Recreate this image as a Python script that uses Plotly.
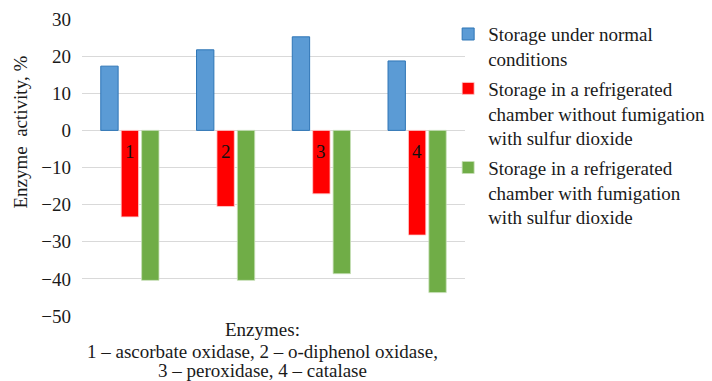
import plotly.graph_objects as go

categories = ["1", "2", "3", "4"]
normal = [17.3, 21.7, 25.2, 18.7]
refrig_no_fum = [-23.3, -20.5, -17.1, -28.2]
refrig_fum = [-40.4, -40.4, -38.6, -43.7]
names = [
    "Storage under normal<br>conditions",
    "Storage in a refrigerated<br>chamber without fumigation<br>with sulfur dioxide",
    "Storage in a refrigerated<br>chamber with fumigation<br>with sulfur dioxide",
]
y_ticks = [30, 20, 10, 0, -10, -20, -30, -40, -50]
x_title_lines = [
    "Enzymes:",
    "1 \u2013 ascorbate oxidase, 2 \u2013 o-diphenol oxidase,",
    "3 \u2013 peroxidase, 4 \u2013 catalase",
]

FONT = "Liberation Serif"
TXT = "#1a1a1a"

fig = go.Figure()
fig.add_trace(go.Bar(x=categories, y=normal, name=names[0], legendgroup="a",
                     marker=dict(color="#5b9bd5", line=dict(color="#2e75b6", width=1))))
fig.add_trace(go.Bar(x=categories, y=refrig_no_fum, name=names[1], legendgroup="b",
                     marker=dict(color="#ff0000", line=dict(color="#ffd0d0", width=0.8))))
fig.add_trace(go.Bar(x=categories, y=refrig_fum, name=names[2], legendgroup="c",
                     marker=dict(color="#70ad47", line=dict(color="#c8e0b8", width=0.8))))

fig.update_layout(
    width=712, height=381,
    margin=dict(l=82, r=247, t=19, b=65, autoexpand=False),
    paper_bgcolor="white", plot_bgcolor="white",
    font=dict(family=FONT, size=19, color=TXT),
    barmode="group", bargap=0.36, bargroupgap=0.15,
    showlegend=True,
    legend=dict(x=0.956, xanchor="left", y=1.013, yanchor="top", xref="paper",
                valign="top", tracegroupgap=2, itemwidth=30, maxheight=380,
                font=dict(family=FONT, size=19, color=TXT),
                bgcolor="rgba(0,0,0,0)"),
    xaxis=dict(type="category", showticklabels=False, showgrid=False, zeroline=False, showline=False),
    yaxis=dict(range=[-50, 30], tickvals=y_ticks, showgrid=True, gridcolor="#d9d9d9",
               gridwidth=1, zeroline=True, zerolinecolor="#d9d9d9", zerolinewidth=1,
               showline=False, ticklabelstandoff=10,
               tickfont=dict(family=FONT, size=19, color=TXT)),
)

# category numbers inside red bars (x given as category index)
for i, c in enumerate(categories):
    fig.add_annotation(x=i, y=0, yshift=-21, text=c, showarrow=False,
                       xanchor="center", yanchor="middle",
                       font=dict(family=FONT, size=19, color="#111"))

fig.add_annotation(text="Enzyme  activity, %", textangle=-90, xref="paper", yref="paper",
                   x=-0.16, y=0.62, xanchor="center", yanchor="middle", showarrow=False,
                   font=dict(family=FONT, size=19, color=TXT))

for line, yp in zip(x_title_lines, [-0.047, -0.118, -0.185]):
    fig.add_annotation(text=line, xref="paper", yref="paper", x=0.47, y=yp,
                       xanchor="center", yanchor="middle", showarrow=False,
                       font=dict(family=FONT, size=19, color=TXT))

fig.write_html("out.html", config={"displayModeBar": False},
               post_script="document.body.style.margin='0';document.body.style.overflow='hidden';")
